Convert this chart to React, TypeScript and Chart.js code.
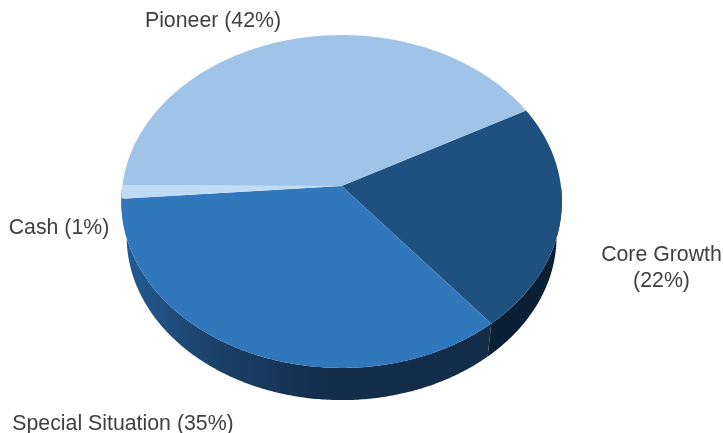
import React, { useEffect, useRef } from "react";
import { Chart, registerables } from "chart.js";

Chart.register(...registerables);

const categories = ["Core Growth", "Special Situation", "Cash", "Pioneer"];
const shares = [22, 34.7, 1.3, 42];
const faceColors = ["#1f5180", "#3177bc", "#c0dcf4", "#9fc4e8"];
const labelLines = [["Core Growth", "(22%)"], ["Special Situation (35%)"], ["Cash (1%)"], ["Pioneer (42%)"]];

// label layout: centre x, first-line centre y
const labelPlaces = [
  [661.5, 255],
  [123, 424],
  [59, 228],
  [213, 21],
];

// Tilted-disc perspective used for the 3D look
const PERSPECTIVE = -0.093;
const TOP_FACE = { x: 341.6, y: 186, c: 219.3, a: 165 };
const BOTTOM_FACE = { x: 341.6, y: 221.5, c: 214, a: 162 };

type Face = typeof TOP_FACE;

function project(face: Face, angle: number, r = 1) {
  const u = Math.cos(angle) * r;
  const v = Math.sin(angle) * r;
  const w = 1 + PERSPECTIVE * v;
  return { x: face.x + (face.c * u) / w, y: face.y + (face.a * v) / w };
}

function trace(ctx: CanvasRenderingContext2D, face: Face, from: number, to: number, first: boolean) {
  const steps = Math.max(2, Math.ceil(Math.abs(to - from) / 0.01));
  for (let i = 0; i <= steps; i++) {
    const p = project(face, from + ((to - from) * i) / steps);
    if (i === 0 && first) ctx.moveTo(p.x, p.y);
    else ctx.lineTo(p.x, p.y);
  }
}

const pie3d = {
  id: "pie3d",
  beforeDatasetDraw(chart: any, args: any) {
    const ctx: CanvasRenderingContext2D = chart.ctx;
    const arcs = args.meta.data;
    const colors = chart.data.datasets[0].backgroundColor;

    // outer wall: only the front half is visible
    arcs.forEach((arc: any, i: number) => {
      const norm = (a: number) => ((a % (2 * Math.PI)) + 2 * Math.PI) % (2 * Math.PI);
      let s = norm(arc.startAngle);
      let e = s + (arc.endAngle - arc.startAngle);
      if (s > Math.PI) {
        s -= 2 * Math.PI;
        e -= 2 * Math.PI;
      }
      const from = Math.max(s, 0);
      const to = Math.min(e, Math.PI);
      if (to <= from) return;
      ctx.beginPath();
      trace(ctx, TOP_FACE, from, to, true);
      trace(ctx, BOTTOM_FACE, to, from, false);
      ctx.closePath();
      if (i === 1) {
        const g = ctx.createLinearGradient(125, 0, 490, 0);
        g.addColorStop(0, "#235c91");
        g.addColorStop(0.22, "#1c436c");
        g.addColorStop(0.55, "#142d4b");
        g.addColorStop(1, "#132c49");
        ctx.fillStyle = g;
      } else {
        ctx.fillStyle = "#0c2035";
      }
      ctx.fill();
    });

    // top face
    arcs.forEach((arc: any, i: number) => {
      ctx.beginPath();
      ctx.moveTo(TOP_FACE.x, TOP_FACE.y);
      trace(ctx, TOP_FACE, arc.startAngle, arc.endAngle, false);
      ctx.closePath();
      ctx.fillStyle = colors[i];
      ctx.fill();
    });

    // labels
    ctx.save();
    ctx.font = "21.3px 'Liberation Sans'";
    ctx.fillStyle = "#404040";
    ctx.textAlign = "center";
    ctx.textBaseline = "middle";
    labelLines.forEach((lines, i) => {
      lines.forEach((t, j) => ctx.fillText(t, labelPlaces[i][0], labelPlaces[i][1] + j * 26));
    });
    ctx.restore();
    return false;
  },
};

export default function App() {
  const ref = useRef<HTMLCanvasElement>(null);
  useEffect(() => {
    const chart = new Chart(ref.current as HTMLCanvasElement, {
      type: "pie",
      data: {
        labels: categories,
        datasets: [{ data: shares, backgroundColor: faceColors, borderWidth: 0 }],
      },
      options: {
        animation: false,
        responsive: false,
        rotation: 61.5,
        plugins: { legend: { display: false }, tooltip: { enabled: false } },
      },
      plugins: [pie3d],
    } as any);
    return () => chart.destroy();
  }, []);
  return (
    <div style={{ position: "fixed", left: 0, top: 0, width: 723, height: 433, background: "#fff" }}>
      <canvas ref={ref} width={723} height={433} style={{ display: "block" }} />
    </div>
  );
}
